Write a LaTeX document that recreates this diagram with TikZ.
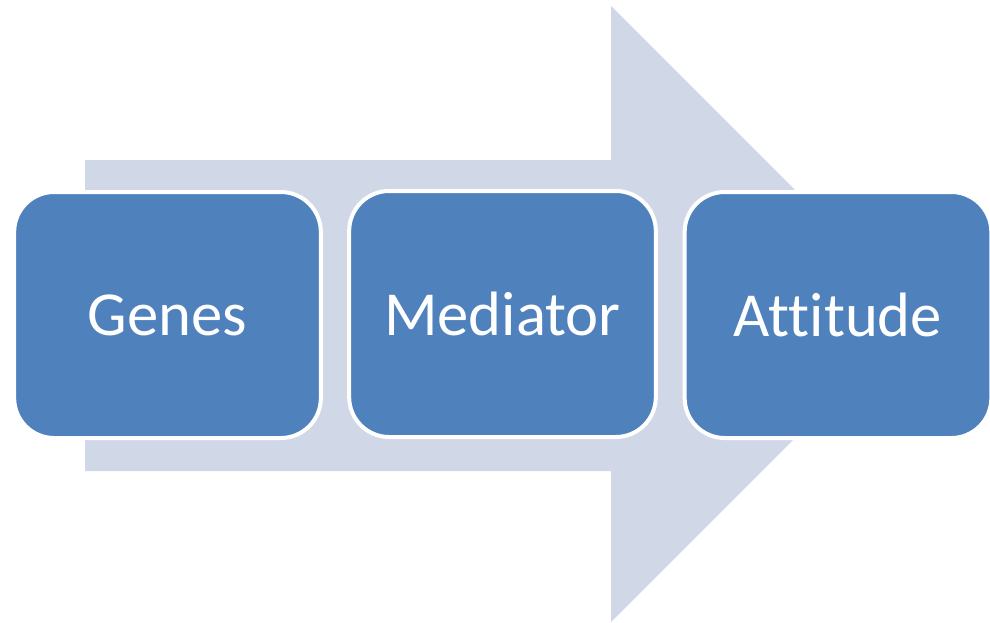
\documentclass[tikz,border=0pt]{standalone}
\usepackage{fontspec}
\setmainfont[Ligatures=NoCommon]{Carlito}
\definecolor{boxblue}{HTML}{4F81BD}
\definecolor{arrowgray}{HTML}{D0D8E8}
\tikzset{
  stage/.style={draw=white, line width=3pt, fill=boxblue, rounded corners=30pt,
    minimum width=230pt, minimum height=184.5pt, text=white,
    font=\fontsize{47}{56}\selectfont, inner sep=0pt}
}
\begin{document}
\begin{tikzpicture}[x=0.75pt, y=-0.75pt]
\useasboundingbox (0,0) rectangle (990,622);
\begin{scope}
  \fill[arrowgray] (85,160) -- (611,160) -- (611,6) -- (919,314) -- (611,622) -- (611,471) -- (85,471) -- cycle;
\end{scope}
\begin{scope}
  \node[stage] (genes) at (167.5,315) {Genes};
  \node[stage] (mediator) at (502.5,314) {Mediator};
  \node[stage] (attitude) at (838,315) {Attitude};
\end{scope}
\end{tikzpicture}
\end{document}
